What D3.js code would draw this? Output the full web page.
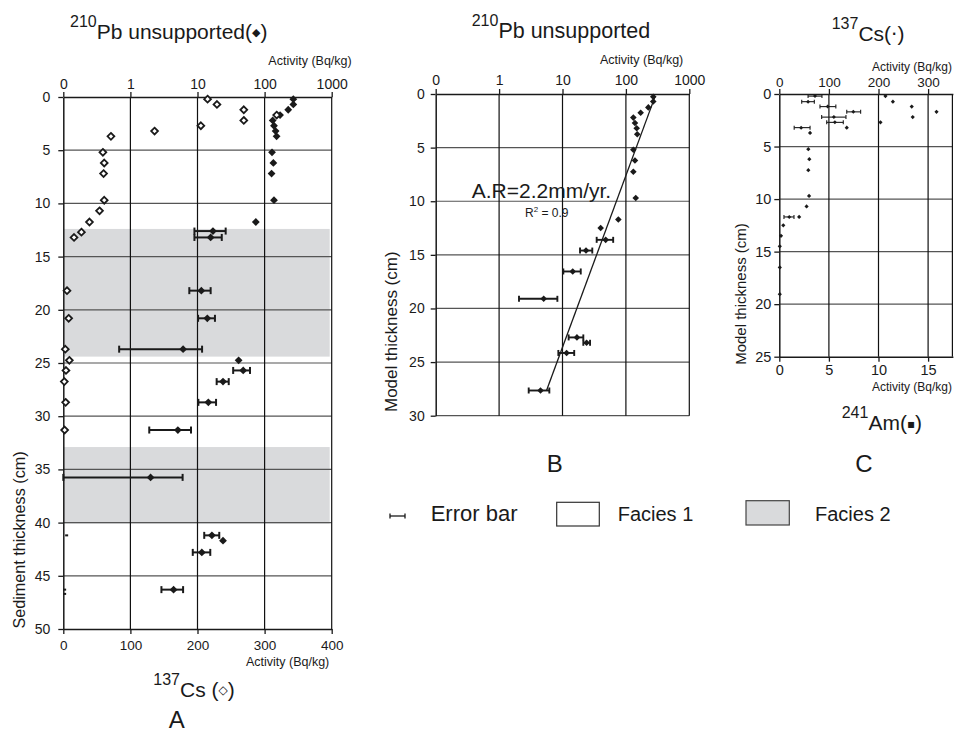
<!DOCTYPE html>
<html><head><meta charset="utf-8">
<script src="https://cdn.jsdelivr.net/npm/d3@7"></script>
<style>
body{margin:0;background:#fff}
svg{display:block}
text{font-family:"Liberation Sans",Arial,Helvetica,sans-serif;fill:#1a1a1a}
</style>
</head><body>
<svg id="chart" width="954" height="733"></svg>
<script>
// ---------- shared tick labels ----------
const logTicks = [0.1, 1, 10, 100, 1000];
const logTickLabels = ["0", "1", "10", "100", "1000"];
const depthTicksA = [0,5,10,15,20,25,30,35,40,45,50];
const depthTicksB = [0,5,10,15,20,25,30];
const depthTicksC = [0,5,10,15,20,25];
const csTicksA = [0,100,200,300,400];
const csTicksC = [0,100,200,300];
const amTicksC = [0,5,10,15];

// ---------- Panel A : 210Pb unsupported (filled diamonds, log top axis) ----------
const pbA_depth = [0.2,0.7,1.2,1.7,2.2,2.7,3.2,3.7,5.2,6.2,7.2,9.7,11.75,12.6,13.2,18.2,20.8,23.7,24.75,25.7,26.75,28.7,31.3,35.75,41.2,41.7,42.8,46.3];
const pbA_val   = [268,268,225,170,132,138,146,151,129,135,127,138,74,17,15.7,11.4,14,6.1,41,48,24,14.5,5.1,2.0,16.4,24,11.6,4.4];
const pbA_lo    = [null,null,null,null,null,null,null,null,null,null,null,null,null,9,9,7.55,10.2,0.68,null,34,19.3,10.3,1.91,0.1,12.6,null,8.5,2.9];
const pbA_hi    = [null,null,null,null,null,null,null,null,null,null,null,null,null,26.3,23,15.7,18.2,11.7,null,60.6,29.2,18.9,8.0,6.0,21.1,null,15.5,6.1];
// Panel A : 137Cs (open diamonds, linear bottom axis)
const csA_depth = [0.2,0.7,1.2,1.7,2.2,2.7,3.2,3.7,5.2,6.2,7.2,9.7,10.7,11.75,12.7,13.2,18.2,20.8,23.7,24.75,25.7,26.75,28.7,31.3];
const csA_val   = [215,229,269,318,269,205,136,71,59,61,60,61,54,39,27,16,5.5,8,3,9,4,1.5,3.5,2];
const csA_traceDepth = [41.2,46.3,46.7];
const csA_traceVal   = [5,2,2];
// Facies 2 bands (depth ranges)
const facies2Top = [12.4, 32.9];
const facies2Bottom = [24.4, 40.1];

// ---------- Panel B : 210Pb unsupported vs model thickness ----------
const pbB_depth = [0.25,0.7,1.25,1.75,2.2,2.7,3.2,3.75,5.2,6.2,7.25,9.7,11.7,12.5,13.6,14.6,16.55,19.1,22.7,23.2,24.15,27.65];
const pbB_val   = [270,270,226,171,131,139,148,151,131,139,131,143,76,40,48,23.5,14.5,5.05,16.9,24,11.6,4.5];
const pbB_lo    = [null,null,null,null,null,null,null,null,null,null,null,null,null,null,34.6,18.9,10.3,2.06,12.5,21.3,8.6,2.93];
const pbB_hi    = [null,null,null,null,null,null,null,null,null,null,null,null,null,null,63,29.5,19.4,8.3,21.3,27.2,15.3,6.2];
const fitDepth = [0.2, 27.65];
const fitVal   = [290, 5.6];

// ---------- Panel C : 137Cs (top axis) and 241Am (bottom axis) ----------
const csC_depth = [0.2,0.73,1.2,1.7,2.2,2.7,3.2,3.7,5.25,6.2,7.25,9.7,10.7,11.7,12.5,13.5,14.5,16.5,19.05];
const csC_val   = [214,229,267,317,269,204,136,62,58.5,60.5,58.5,60,55,40,8,3.4,1,1,1];
const amC_depth = [0.2,0.73,1.2,1.7,2.2,2.7,3.2,11.7];
const amC_val   = [3.6,2.9,4.88,7.46,5.5,5.6,2.2,1.0];
const amC_lo    = [2.9,2.26,4.1,6.8,4.27,4.78,1.5,0.47];
const amC_hi    = [4.3,3.53,5.7,8.2,6.72,6.45,3.1,1.48];

// ================= drawing =================
const svg = d3.select("#chart");
const INK = "#1a1a1a";
const FONT = '"Liberation Sans",Arial,Helvetica,sans-serif';
const diamond = r => `M0,${-r}L${r},0L0,${r}L${-r},0Z`;

function zip(...arrs){ return arrs[0].map((_,i)=>arrs.map(a=>a[i])); }

function styleAxis(g, size){
  g.attr("font-family", FONT).attr("font-size", size);
  g.select(".domain").attr("stroke", INK).attr("stroke-width", 1.5);
  g.selectAll(".tick line").attr("stroke", INK).attr("stroke-width", 1.3);
  g.selectAll(".tick text").attr("fill", INK);
}

// title: superscript isotope + main text + optional small marker glyph + closing text
function supTitle(x, y, sup, main, glyph, tail, opts){
  const o = Object.assign({supSize:16, mainSize:21, raise:12, glyphSize:11, glyphLift:3}, opts || {});
  const t = svg.append("text").attr("x", x).attr("y", y);
  t.append("tspan").attr("font-size", o.supSize).attr("dy", -o.raise).text(sup);
  t.append("tspan").attr("font-size", o.mainSize).attr("dy", o.raise).text(main);
  if (glyph) {
    t.append("tspan").attr("font-size", o.glyphSize).attr("dy", -o.glyphLift)
      .attr("font-family", "DejaVu Sans").text(glyph);
    t.append("tspan").attr("font-size", o.mainSize).attr("dy", o.glyphLift).text(tail);
  }
  return t;
}

function grid(g, xs, ys, xVals, yVals, x0, x1, y0, y1){
  g.selectAll(null).data(yVals).join("line")
    .attr("x1", xs(x0)).attr("x2", xs(x1)).attr("y1", d=>ys(d)).attr("y2", d=>ys(d))
    .attr("stroke", "#555").attr("stroke-width", 1.2);
  g.selectAll(null).data(xVals).join("line")
    .attr("x1", d=>xs(d)).attr("x2", d=>xs(d)).attr("y1", ys(y0)).attr("y2", ys(y1))
    .attr("stroke", "#111").attr("stroke-width", 1.2);
}

function errBars(g, rows, xs, ys, cap, sw){
  const d = rows.filter(r => r[2] != null);
  g.selectAll(null).data(d).join("line")
    .attr("x1", r=>xs(r[2])).attr("x2", r=>xs(r[3])).attr("y1", r=>ys(r[0])).attr("y2", r=>ys(r[0]))
    .attr("stroke", INK).attr("stroke-width", sw);
  [2,3].forEach(k=>{
    g.selectAll(null).data(d).join("line")
      .attr("x1", r=>xs(r[k])).attr("x2", r=>xs(r[k]))
      .attr("y1", r=>ys(r[0]) - cap/2).attr("y2", r=>ys(r[0]) + cap/2)
      .attr("stroke", INK).attr("stroke-width", sw);
  });
}

// ---------------- Panel A ----------------
{
  const xLog = d3.scaleLog().domain([0.1, 1000]).range([63.3, 331.7]);
  const xLin = d3.scaleLinear().domain([0, 400]).range([63.3, 331.7]);
  const y = d3.scaleLinear().domain([0, 50]).range([97, 629]);
  const g = svg.append("g");

  // facies 2 bands
  g.selectAll(null).data(zip(facies2Top, facies2Bottom)).join("rect")
    .attr("x", xLin(0)).attr("width", xLin(400) - xLin(0) - 2)
    .attr("y", d=>y(d[0])).attr("height", d=>y(d[1]) - y(d[0]))
    .attr("fill", "#d9dadc");

  grid(g, xLog, y, logTicks.slice(1), depthTicksA.slice(1, -1), 0.1, 1000, 0, 50);

  const top = g.append("g").attr("transform", `translate(0,${y(0)})`)
    .call(d3.axisTop(xLog).tickValues(logTicks).tickFormat((d,i)=>logTickLabels[i]).tickSize(5).tickSizeOuter(0).tickPadding(3));
  styleAxis(top, 14);
  const left = g.append("g").attr("transform", `translate(${xLin(0)},0)`)
    .call(d3.axisLeft(y).tickValues(depthTicksA).tickSize(5).tickSizeOuter(0).tickPadding(8));
  styleAxis(left, 14);
  const bot = g.append("g").attr("transform", `translate(0,${y(50)})`)
    .call(d3.axisBottom(xLin).tickValues(csTicksA).tickSize(5).tickSizeOuter(0).tickPadding(6));
  styleAxis(bot, 13.5);

  // error bars + 210Pb
  const pbRows = zip(pbA_depth, pbA_val, pbA_lo, pbA_hi);
  errBars(g, pbRows, xLog, y, 7, 2);
  g.selectAll(null).data(pbRows).join("path")
    .attr("d", diamond(3.9)).attr("transform", r=>`translate(${xLog(r[1])},${y(r[0])})`)
    .attr("fill", INK);

  // 137Cs open diamonds
  g.selectAll(null).data(zip(csA_depth, csA_val)).join("path")
    .attr("d", diamond(3.4)).attr("transform", r=>`translate(${xLin(r[1])},${y(r[0])})`)
    .attr("fill", "#fff").attr("stroke", INK).attr("stroke-width", 1.8);
  g.selectAll(null).data(zip(csA_traceDepth, csA_traceVal)).join("rect")
    .attr("x", r=>xLin(r[1]) - 1.5).attr("y", r=>y(r[0]) - 1).attr("width", 3).attr("height", 2)
    .attr("fill", INK);

  svg.append("text").attr("x", 351.7).attr("y", 64.5).attr("text-anchor", "end").attr("font-size", 12.5).text("Activity (Bq/kg)");
  svg.append("text").attr("x", 329.3).attr("y", 666).attr("text-anchor", "end").attr("font-size", 12.5).text("Activity (Bq/kg)");
  supTitle(70, 39, "210", "Pb unsupported(", "◆", ")");
  supTitle(153.3, 697, "137", "Cs (", "◇", ")", {glyphSize: 12});
  svg.append("text").attr("x", 176.7).attr("y", 728).attr("text-anchor", "middle").attr("font-size", 24).text("A");
  svg.append("text").attr("transform", "translate(24.5,540) rotate(-90)").attr("text-anchor", "middle")
    .attr("font-size", 16.2).text("Sediment thickness (cm)");
}

// ---------------- Panel B ----------------
{
  const x = d3.scaleLog().domain([0.1, 1000]).range([435.7, 689.3]);
  const y = d3.scaleLinear().domain([0, 30]).range([94, 415.7]);
  const g = svg.append("g");
  grid(g, x, y, logTicks.slice(1), depthTicksB.slice(1), 0.1, 1000, 0, 30);

  const top = g.append("g").attr("transform", `translate(0,${y(0)})`)
    .call(d3.axisTop(x).tickValues(logTicks).tickFormat((d,i)=>logTickLabels[i]).tickSize(5).tickSizeOuter(0).tickPadding(4));
  styleAxis(top, 14);
  const left = g.append("g").attr("transform", `translate(${x(0.1)},0)`)
    .call(d3.axisLeft(y).tickValues(depthTicksB).tickSize(5).tickSizeOuter(0).tickPadding(6));
  styleAxis(left, 14);

  // regression line
  g.append("line")
    .attr("x1", x(fitVal[0])).attr("y1", y(fitDepth[0]))
    .attr("x2", x(fitVal[1])).attr("y2", y(fitDepth[1]))
    .attr("stroke", INK).attr("stroke-width", 1.3);

  const rows = zip(pbB_depth, pbB_val, pbB_lo, pbB_hi);
  errBars(g, rows, x, y, 6, 1.9);
  g.selectAll(null).data(rows).join("path")
    .attr("d", diamond(3.3)).attr("transform", r=>`translate(${x(r[1])},${y(r[0])})`)
    .attr("fill", INK);

  svg.append("text").attr("x", 683.3).attr("y", 63.5).attr("text-anchor", "end").attr("font-size", 12.5).text("Activity (Bq/kg)");
  supTitle(471.7, 38, "210", "Pb unsupported", null, null, {mainSize: 21.5});
  svg.append("text").attr("x", 471.7).attr("y", 197.5).attr("font-size", 21).text("A.R=2.2mm/yr.");
  const r2 = svg.append("text").attr("x", 525).attr("y", 216.5).attr("font-size", 12);
  r2.append("tspan").text("R");
  r2.append("tspan").attr("font-size", 8).attr("dy", -5).text("2");
  r2.append("tspan").attr("dy", 5).text(" = 0.9");
  svg.append("text").attr("transform", "translate(397,331.7) rotate(-90)").attr("text-anchor", "middle")
    .attr("font-size", 17).text("Model thickness (cm)");
  svg.append("text").attr("x", 554.7).attr("y", 472).attr("text-anchor", "middle").attr("font-size", 24).text("B");
}

// ---------------- Panel C ----------------
{
  const xCs = d3.scaleLinear().domain([0, 350]).range([779.3, 952.9]);
  const xAm = d3.scaleLinear().domain([0, 17.5]).range([779.3, 952.9]);
  const y = d3.scaleLinear().domain([0, 25]).range([94, 356.7]);
  const g = svg.append("g");
  grid(g, xCs, y, [100, 200, 300, 349], depthTicksC.slice(1, -1), 0, 350, 0, 25);

  const top = g.append("g").attr("transform", `translate(0,${y(0)})`)
    .call(d3.axisTop(xCs).tickValues(csTicksC).tickSize(5).tickSizeOuter(0).tickPadding(2.5));
  styleAxis(top, 13.5);
  const left = g.append("g").attr("transform", `translate(${xCs(0)},0)`)
    .call(d3.axisLeft(y).tickValues(depthTicksC).tickSize(5).tickSizeOuter(0).tickPadding(3));
  styleAxis(left, 14.5);
  const bot = g.append("g").attr("transform", `translate(0,${y(25)})`)
    .call(d3.axisBottom(xAm).tickValues(amTicksC).tickSize(5).tickSizeOuter(0).tickPadding(3));
  styleAxis(bot, 14.5);

  const amRows = zip(amC_depth, amC_val, amC_lo, amC_hi);
  errBars(g, amRows, xAm, y, 4, 1.1);
  g.selectAll(null).data(amRows).join("path")
    .attr("d", diamond(2)).attr("transform", r=>`translate(${xAm(r[1])},${y(r[0])})`)
    .attr("fill", INK);
  g.selectAll(null).data(zip(csC_depth, csC_val)).join("path")
    .attr("d", diamond(2.1)).attr("transform", r=>`translate(${xCs(r[1])},${y(r[0])})`)
    .attr("fill", INK);

  svg.append("text").attr("x", 952).attr("y", 71).attr("text-anchor", "end").attr("font-size", 12).text("Activity (Bq/kg)");
  svg.append("text").attr("x", 952).attr("y", 391).attr("text-anchor", "end").attr("font-size", 12).text("Activity (Bq/kg)");
  supTitle(831.7, 41, "137", "Cs(", "·", ")", {glyphSize: 20, glyphLift: 0});
  supTitle(841.7, 430, "241", "Am(", "▪", ")", {glyphSize: 12, glyphLift: 2});
  svg.append("text").attr("transform", "translate(746,294) rotate(-90)").attr("text-anchor", "middle")
    .attr("font-size", 15).text("Model thickness (cm)");
  svg.append("text").attr("x", 864).attr("y", 472).attr("text-anchor", "middle").attr("font-size", 24).text("C");
}

// ---------------- Legend ----------------
{
  const g = svg.append("g");
  const ly = 516;
  g.append("line").attr("x1", 390).attr("x2", 405).attr("y1", ly).attr("y2", ly).attr("stroke", INK).attr("stroke-width", 1.3);
  [390, 405].forEach(x => g.append("line").attr("x1", x).attr("x2", x).attr("y1", ly-2.5).attr("y2", ly+2.5).attr("stroke", INK).attr("stroke-width", 1.3));
  g.append("text").attr("x", 430.7).attr("y", 520.5).attr("font-size", 22).text("Error bar");
  g.append("rect").attr("x", 556.7).attr("y", 502.3).attr("width", 42.6).attr("height", 23.7)
    .attr("fill", "#fff").attr("stroke", "#333").attr("stroke-width", 1.2);
  g.append("text").attr("x", 617.7).attr("y", 520.5).attr("font-size", 20).text("Facies 1");
  g.append("rect").attr("x", 746).attr("y", 500.7).attr("width", 43.3).attr("height", 24.3)
    .attr("fill", "#d9dadc").attr("stroke", "#444").attr("stroke-width", 1.2);
  g.append("text").attr("x", 815).attr("y", 520.5).attr("font-size", 20).text("Facies 2");
}
</script>
</body></html>
